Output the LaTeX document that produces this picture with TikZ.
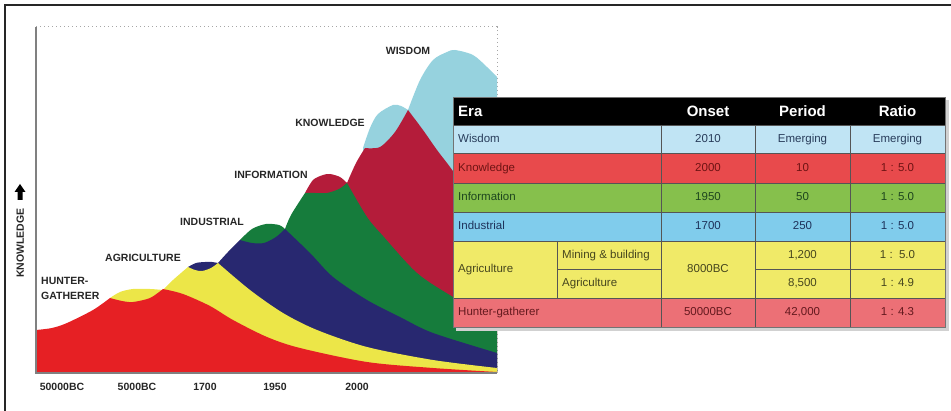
\documentclass[tikz,border=0pt]{standalone}
\usepackage{fontspec}
\setmainfont{Liberation Sans}
\definecolor{cred}{RGB}{230,32,36}
\definecolor{cyel}{RGB}{236,230,72}
\definecolor{cnavy}{RGB}{40,40,112}
\definecolor{cgreen}{RGB}{22,124,60}
\definecolor{ccrim}{RGB}{180,28,58}
\definecolor{clblue}{RGB}{150,210,222}
\definecolor{twis}{RGB}{192,228,244}
\definecolor{tkno}{RGB}{232,74,76}
\definecolor{tinf}{RGB}{134,192,76}
\definecolor{tind}{RGB}{128,204,236}
\definecolor{tagr}{RGB}{240,234,104}
\definecolor{thun}{RGB}{236,112,118}
\definecolor{xwis}{RGB}{40,60,90}
\definecolor{xkno}{RGB}{110,20,20}
\definecolor{xinf}{RGB}{30,70,30}
\definecolor{xind}{RGB}{30,50,90}
\definecolor{xagr}{RGB}{70,70,30}
\definecolor{xhun}{RGB}{100,25,30}
\definecolor{grid}{RGB}{85,85,85}
\begin{document}
\begin{tikzpicture}[x=1pt,y=-1pt,
  lab/.style={font=\fontsize{10.5}{12}\selectfont\bfseries, text=black!85, inner sep=0pt, text height=7.5pt, text depth=0pt},
  hdr/.style={font=\fontsize{15}{17}\selectfont\bfseries, text=white, inner sep=0pt, text height=11pt, text depth=0pt},
  cell/.style={font=\fontsize{11.5}{13}\selectfont, inner sep=0pt, text height=9pt, text depth=2pt},
  gridline/.style={draw=grid, line width=0.8pt}]
\useasboundingbox (0,0) rectangle (951,411);
% outer frame
\draw[line width=2pt, black!85] (951,5) -- (5,5) -- (5,411);
% dotted frame of the chart
\draw[gray!70, line width=1pt, dash pattern=on 1.2pt off 2.8pt] (36,27) -- (497,27) -- (497,373);
% wisdom
\fill[clblue] (363,373) -- (363,148)
  -- plot[smooth] coordinates {(363,148)(370,128)(378,114)(393,105)(401,106)(408,110)}
  -- plot[smooth] coordinates {(408,110)(420,80)(433,60)(447,52)(455,50)(473,55)(487,67)(497,77)}
  -- (497,373) -- cycle;
% knowledge
\fill[ccrim] (305,373) -- (305,193)
  -- plot[smooth] coordinates {(305,193)(313,180)(323,175)(330,174)(340,177)(347,183)}
  -- plot[smooth] coordinates {(347,183)(356,163)(365,148)}
  -- plot[smooth] coordinates {(365,148)(380,147)(395,132)(408,110)}
  -- plot[smooth] coordinates {(408,110)(423,130)(437,150)(450,167)(470,195)(497,230)}
  -- (497,373) -- cycle;
% information
\fill[cgreen] (240,373) -- (240,240)
  -- plot[smooth] coordinates {(240,240)(252,229)(266,224)(279,225)(285,229)}
  -- plot[smooth] coordinates {(285,229)(291,215)(305,193)}
  -- plot[smooth] coordinates {(305,193)(315,193)(327,193)(339,189)(347,183)}
  -- plot[smooth] coordinates {(347,183)(367,217)(383,236)(417,273)(453,297)(497,322)}
  -- (497,373) -- cycle;
% industrial
\fill[cnavy] (188,373) -- (188,267)
  -- plot[smooth] coordinates {(188,267)(196,263)(205,262)(212,262)(218,263)}
  -- plot[smooth] coordinates {(218,263)(228,252)(240,240)}
  -- plot[smooth] coordinates {(240,240)(252,243)(264,243)(276,237)(285,229)}
  -- plot[smooth] coordinates {(285,229)(310,253)(333,277)(367,300)(400,317)(433,333)(497,353)}
  -- (497,373) -- cycle;
% agriculture
\fill[cyel] (110,373) -- (110,298)
  -- plot[smooth] coordinates {(110,298)(120,292)(133,289)(150,289)(163,290)}
  -- plot[smooth] coordinates {(163,290)(173,280)(188,267)}
  -- plot[smooth] coordinates {(188,267)(195,270)(202,271)(211,268)(218,263)}
  -- plot[smooth] coordinates {(218,263)(250,290)(283,313)(317,330)(367,347)(433,360)(497,368)}
  -- (497,373) -- cycle;
% hunter-gatherer
\fill[cred] (36,373)
  -- plot[smooth] coordinates {(36,330)(52,328)(67,323)(93,310)(110,298)}
  -- plot[smooth] coordinates {(110,298)(122,301)(133,302)(150,298)(163,289)}
  -- plot[smooth] coordinates {(163,289)(183,294)(210,306)(233,320)(267,337)(300,348)(367,362)(433,368)(497,372)}
  -- (497,373) -- cycle;
% axes
\draw[gray, line width=1.2pt] (36,27) -- (36,373) -- (497,373);
% era labels
\node[lab, anchor=west] (hg1) at (41,281) {HUNTER-};
\node[lab, anchor=west] (hg2) at (41,296) {GATHERER};
\node[lab] (lagr) at (143,258) {AGRICULTURE};
\node[lab] (lind) at (212,222) {INDUSTRIAL};
\node[lab] (linf) at (271,175) {INFORMATION};
\node[lab] (lkno) at (330,123) {KNOWLEDGE};
\node[lab] (lwis) at (408,51) {WISDOM};
% x axis labels
\node[lab] (x1) at (62,387) {50000BC};
\node[lab] (x2) at (137,387) {5000BC};
\node[lab] (x3) at (205,387) {1700};
\node[lab] (x4) at (275,387) {1950};
\node[lab] (x5) at (357,387) {2000};
% y axis label and arrow
\node[lab, rotate=90] (ylab) at (20,243) {KNOWLEDGE};
\fill[black] (17.5,200) -- (17.5,192) -- (14.5,192) -- (20,184) -- (25.5,192) -- (22.5,192) -- (22.5,200) -- cycle;
% table shadow
\fill[black!18] (456,100) rectangle (949,331);
% header
\fill[black] (453,97) rectangle (945,125);
% rows
\fill[twis] (453,125) rectangle (945,153);
\fill[tkno] (453,153) rectangle (945,183);
\fill[tinf] (453,183) rectangle (945,212);
\fill[tind] (453,212) rectangle (945,241);
\fill[tagr] (453,241) rectangle (945,298);
\fill[thun] (453,298) rectangle (945,327);
% grid
\foreach \yy in {125,153,183,212,241,298} \draw[gridline] (453,\yy) -- (945,\yy);
\draw[gridline] (557,269) -- (661,269);
\draw[gridline] (755,269) -- (945,269);
\foreach \xx in {661,755,850} \draw[gridline] (\xx,125) -- (\xx,327);
\draw[gridline] (557,241) -- (557,298);
\draw[draw=black!55, line width=0.8pt] (453,97) rectangle (945,327);
% header text
\node[hdr, anchor=west] (hera) at (458,111) {Era};
\node[hdr] (hons) at (708,111) {Onset};
\node[hdr] (hper) at (802.5,111) {Period};
\node[hdr] (hrat) at (897.5,111) {Ratio};
% wisdom row
\node[cell, text=xwis, anchor=west] (r1a) at (458,139) {Wisdom};
\node[cell, text=xwis] (r1b) at (708,139) {2010};
\node[cell, text=xwis] (r1c) at (802.5,139) {Emerging};
\node[cell, text=xwis] (r1d) at (897.5,139) {Emerging};
% knowledge row
\node[cell, text=xkno, anchor=west] (r2a) at (458,168) {Knowledge};
\node[cell, text=xkno] (r2b) at (708,168) {2000};
\node[cell, text=xkno] (r2c) at (802.5,168) {10};
\node[cell, text=xkno] (r2d) at (897.5,168) {1 : 5.0};
% information row
\node[cell, text=xinf, anchor=west] (r3a) at (458,197.5) {Information};
\node[cell, text=xinf] (r3b) at (708,197.5) {1950};
\node[cell, text=xinf] (r3c) at (802.5,197.5) {50};
\node[cell, text=xinf] (r3d) at (897.5,197.5) {1 : 5.0};
% industrial row
\node[cell, text=xind, anchor=west] (r4a) at (458,226.5) {Industrial};
\node[cell, text=xind] (r4b) at (708,226.5) {1700};
\node[cell, text=xind] (r4c) at (802.5,226.5) {250};
\node[cell, text=xind] (r4d) at (897.5,226.5) {1 : 5.0};
% agriculture rows
\node[cell, text=xagr, anchor=west] (r5a) at (458,269.5) {Agriculture};
\node[cell, text=xagr, anchor=west] (r5s1) at (562,255) {Mining \& building};
\node[cell, text=xagr, anchor=west] (r5s2) at (562,283.5) {Agriculture};
\node[cell, text=xagr] (r5b) at (708,269.5) {8000BC};
\node[cell, text=xagr] (r5c1) at (802.5,255) {1,200};
\node[cell, text=xagr] (r5d1) at (897.5,255) {1 :\ \ 5.0};
\node[cell, text=xagr] (r5c2) at (802.5,283.5) {8,500};
\node[cell, text=xagr] (r5d2) at (897.5,283.5) {1 : 4.9};
% hunter-gatherer row
\node[cell, text=xhun, anchor=west] (r6a) at (458,312.5) {Hunter-gatherer};
\node[cell, text=xhun] (r6b) at (708,312.5) {50000BC};
\node[cell, text=xhun] (r6c) at (802.5,312.5) {42,000};
\node[cell, text=xhun] (r6d) at (897.5,312.5) {1 : 4.3};
\end{tikzpicture}
\end{document}
